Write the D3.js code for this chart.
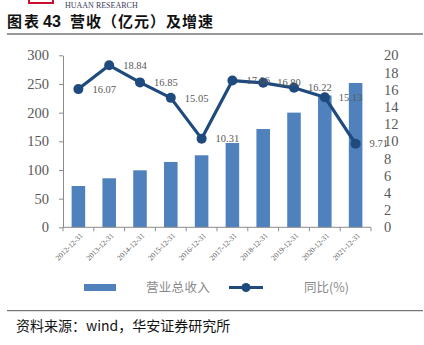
<!DOCTYPE html>
<html>
<head>
<meta charset="utf-8">
<script src="https://cdn.jsdelivr.net/npm/d3@7"></script>
<style>
  html, body { margin: 0; padding: 0; background: #fff; }
  svg { display: block; }
</style>
</head>
<body>
<svg id="chart" width="424" height="345"></svg>
<script>
// Revenue (100m CNY) and YoY growth, 2012–2021
const categories = ["2012-12-31","2013-12-31","2014-12-31","2015-12-31","2016-12-31",
                    "2017-12-31","2018-12-31","2019-12-31","2020-12-31","2021-12-31"];
const revenue = [72, 85.5, 99.4, 114, 125.6, 147, 171.4, 200, 230, 251.7];
const growth = [16.07, 18.84, 16.85, 15.05, 10.31, 17.06, 16.80, 16.22, 15.13, 9.71];
const leftTicks = [0, 50, 100, 150, 200, 250, 300];
const rightTicks = [0, 2, 4, 6, 8, 10, 12, 14, 16, 18, 20];
const seriesNames = ["营业总收入", "同比(%)"];

const barColor = "#4f81bd";
const lineColor = "#1f4a7e";
const axisColor = "#8c8c8c";
const textColor = "#595959";
const serif = "'Liberation Serif', 'DejaVu Serif', serif";
const cjk = "'Noto Sans CJK SC', sans-serif";

const svg = d3.select("#chart");

// Header: logo fragment and research label
svg.append("rect").attr("x", 29).attr("y", -6).attr("width", 24).attr("height", 9)
  .attr("fill", "#fff").attr("stroke", "#c8102e").attr("stroke-width", 2);
svg.append("text").attr("x", 65).attr("y", 7.5)
  .attr("font-family", serif).attr("font-size", 8).attr("fill", "#3a3a5a")
  .text("HUAAN RESEARCH");

// Title
const title = svg.append("g").attr("font-family", cjk).attr("font-weight", "bold")
  .attr("font-size", 15).attr("fill", "#111");
title.append("text").attr("x", 7).attr("y", 27).attr("letter-spacing", 2).text("图表");
title.append("text").attr("x", 43).attr("y", 27).attr("font-family", "'Liberation Sans', sans-serif")
  .attr("font-size", 16).text("43");
title.append("text").attr("x", 70).attr("y", 27).attr("letter-spacing", 1).text("营收（亿元）及增速");
svg.append("line").attr("x1", 7).attr("x2", 423).attr("y1", 34).attr("y2", 34)
  .attr("stroke", "#333").attr("stroke-width", 1);

// Plot area
const x0 = 63, x1 = 371, yTop = 55.3, yBottom = 227.3;

const x = d3.scaleBand().domain(categories).range([x0, x1]).paddingInner(0.56).paddingOuter(0.28);
const xPoint = c => x(c) + x.bandwidth() / 2;
const yL = d3.scaleLinear().domain([0, 300]).range([yBottom, yTop]);
const yR = d3.scaleLinear().domain([0, 20]).range([yBottom, yTop]);

// Bars
svg.append("g").selectAll("rect").data(categories).join("rect")
  .attr("x", c => x(c))
  .attr("y", (c, i) => yL(revenue[i]))
  .attr("width", x.bandwidth())
  .attr("height", (c, i) => yBottom - yL(revenue[i]))
  .attr("fill", barColor);

// Left axis
const gL = svg.append("g").attr("transform", `translate(${x0},0)`)
  .call(d3.axisLeft(yL).tickValues(leftTicks).tickSize(4).tickPadding(10).tickSizeOuter(0));
gL.select(".domain").attr("stroke", axisColor);
gL.selectAll(".tick line").attr("stroke", axisColor);
gL.selectAll("text").attr("font-family", serif).attr("font-size", 14.5).attr("fill", textColor);

// Right axis (labels only)
const gR = svg.append("g").attr("transform", `translate(${x1},0)`)
  .call(d3.axisRight(yR).tickValues(rightTicks).tickSize(0).tickPadding(13));
gR.select(".domain").remove();
gR.selectAll("text").attr("font-family", serif).attr("font-size", 14.5).attr("fill", textColor);

// Category axis with boundary ticks
const bounds = d3.range(categories.length + 1).map(i => x0 + (x1 - x0) * i / categories.length);
const gX = svg.append("g");
gX.append("line").attr("x1", x0).attr("x2", x1).attr("y1", yBottom).attr("y2", yBottom)
  .attr("stroke", axisColor);
gX.selectAll("line.tk").data(bounds).join("line").attr("class", "tk")
  .attr("x1", d => d).attr("x2", d => d).attr("y1", yBottom).attr("y2", yBottom + 4)
  .attr("stroke", axisColor);
gX.selectAll("text").data(categories).join("text")
  .attr("transform", c => `translate(${xPoint(c) + 3},${yBottom + 7}) rotate(-45)`)
  .attr("text-anchor", "end").attr("dy", "0.35em")
  .attr("font-family", serif).attr("font-size", 7.5).attr("fill", textColor)
  .text(c => c);

// Growth line
const line = d3.line().x((d, i) => xPoint(categories[i])).y(d => yR(d));
svg.append("path").datum(growth).attr("d", line)
  .attr("fill", "none").attr("stroke", lineColor).attr("stroke-width", 3.2)
  .attr("stroke-linejoin", "round");
svg.append("g").selectAll("circle").data(growth).join("circle")
  .attr("cx", (d, i) => xPoint(categories[i])).attr("cy", d => yR(d))
  .attr("r", 5).attr("fill", lineColor);

// Growth value labels, to the right of each point
svg.append("g").selectAll("text").data(growth).join("text")
  .attr("x", (d, i) => xPoint(categories[i]) + 14)
  .attr("y", d => yR(d)).attr("dy", "0.35em")
  .attr("font-family", serif).attr("font-size", 10.5).attr("fill", textColor)
  .text(d => d.toFixed(2));

// Legend
const ly = 287.5;
svg.append("rect").attr("x", 84).attr("y", ly - 3.5).attr("width", 32).attr("height", 7)
  .attr("fill", barColor);
svg.append("text").attr("x", 146).attr("y", ly).attr("dy", "0.35em")
  .attr("font-family", cjk).attr("font-size", 12.5).attr("fill", "#8a8a8a")
  .attr("letter-spacing", 0.3)
  .text(seriesNames[0]);
svg.append("line").attr("x1", 229).attr("x2", 263).attr("y1", ly).attr("y2", ly)
  .attr("stroke", lineColor).attr("stroke-width", 3.2);
svg.append("circle").attr("cx", 246).attr("cy", ly).attr("r", 4.5).attr("fill", lineColor);
svg.append("text").attr("x", 304).attr("y", ly).attr("dy", "0.35em")
  .attr("font-family", cjk).attr("font-size", 12.5).attr("fill", "#8a8a8a")
  .text(seriesNames[1]);

// Source note
svg.append("line").attr("x1", 7).attr("x2", 423).attr("y1", 310.7).attr("y2", 310.7)
  .attr("stroke", "#555").attr("stroke-width", 1);
svg.append("text").attr("x", 16).attr("y", 326).attr("dy", "0.35em")
  .attr("font-family", cjk).attr("font-size", 14).attr("fill", "#111")
  .text("资料来源：wind，华安证券研究所");
</script>
</body>
</html>
